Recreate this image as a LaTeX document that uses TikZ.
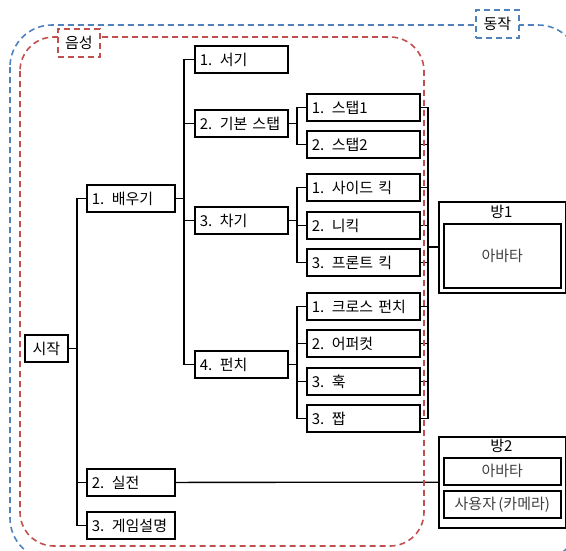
\documentclass[tikz,border=0pt]{standalone}
\usepackage{fontspec}
\setmainfont[WordSpace=0.7]{Noto Sans CJK KR}
\begin{document}
\begin{tikzpicture}[x=1pt,y=-1pt,
  every node/.style={font=\fontsize{15}{17}\selectfont, text=black},
  bx/.style={draw=black, line width=1.8pt, anchor=north west, minimum height=27pt, inner xsep=5pt, inner ysep=0pt, align=left},
  wA/.style={minimum width=88pt, text width=78pt},
  wB/.style={minimum width=93pt, text width=83pt},
  wC/.style={minimum width=113pt, text width=103pt},
  room/.style={draw=black, line width=1.5pt, anchor=north west, minimum width=127pt, minimum height=91pt, inner sep=0pt},
  inbox/.style={draw=black, line width=1.6pt, anchor=north west, minimum width=117pt, inner sep=0pt, text=black!75},
  conn/.style={draw=black, line width=1.7pt},
  bluedash/.style={draw={rgb,255:red,79;green,129;blue,189}, line width=1.6pt, dash pattern=on 6pt off 4pt},
  reddash/.style={draw={rgb,255:red,192;green,80;blue,77}, line width=1.6pt, dash pattern=on 6pt off 4pt},
  lbl/.style={fill=white, anchor=north west, inner sep=0pt}
]
\useasboundingbox (0,0) rectangle (566,550);
\begin{scope}
\clip (0,0) rectangle (566,550);
% outer blue frame
\draw[bluedash, rounded corners=42pt] (10,25) rectangle (580,560);

% level 1
\node[bx, minimum width=43pt] (start) at (24,334) {시작};
\node[bx, wA] (learn) at (86,184) {1. 배우기};
\node[bx, wA] (real) at (86,468) {2. 실전};
\node[bx, wA] (manual) at (86,511) {3. 게임설명};
% level 2
\node[bx, wB] (stand) at (194,45) {1. 서기};
\node[bx, wB] (basic) at (194,109) {2. 기본 스탭};
\node[bx, wB] (kick) at (194,206) {3. 차기};
\node[bx, wB] (punch) at (194,350) {4. 펀치};
% level 3
\node[bx, wC] (s1) at (306,93) {1. 스탭1};
\node[bx, wC] (s2) at (306,130) {2. 스탭2};
\node[bx, wC] (sk) at (306,173) {1. 사이드 킥};
\node[bx, wC] (kn) at (306,211) {2. 니킥};
\node[bx, wC] (fk) at (306,248) {3. 프론트 킥};
\node[bx, wC] (cp) at (306,292) {1. 크로스 펀치};
\node[bx, wC] (up) at (306,329) {2. 어퍼컷};
\node[bx, wC] (hook) at (306,367) {3. 훅};
\node[bx, wC] (jab) at (306,404) {3. 짭};

% rooms
\node[room] (room1) at (438,201) {};
\node (r1t) at (501.5,212) {방1};
\node[inbox, minimum height=64pt] (r1a) at (443,223) {아바타};
\node[room] (room2) at (438,436) {};
\node (r2t) at (501.5,446) {방2};
\node[inbox, minimum height=27pt] (r2a) at (443,457) {아바타};
\node[inbox, minimum height=27pt] (r2b) at (443,490) {사용자 (카메라)};

% trunk coordinates
\coordinate (t1) at (77,0);
\coordinate (t2) at (184,0);
\coordinate (t3) at (297,0);
\coordinate (t4) at (428,0);

% level-1 connectors
\draw[conn] (learn.west) -- (learn.west -| t1) |- (manual.west);
\draw[conn] (start.east) -- (start.east -| t1);
\draw[conn] (real.west) -- (real.west -| t1);
% level-2 connectors
\draw[conn] (learn.east) -- (learn.east -| t2);
\draw[conn] (stand.west) -- (stand.west -| t2) |- (punch.west);
\draw[conn] (basic.west) -- (basic.west -| t2);
\draw[conn] (kick.west) -- (kick.west -| t2);
% level-3 connectors
\draw[conn] (basic.east) -- (basic.east -| t3);
\draw[conn] (s1.west) -- (s1.west -| t3) |- (s2.west);
\draw[conn] (kick.east) -- (kick.east -| t3);
\draw[conn] (sk.west) -- (sk.west -| t3) |- (fk.west);
\draw[conn] (kn.west) -- (kn.west -| t3);
\draw[conn] (punch.east) -- (punch.east -| t3);
\draw[conn] (cp.west) -- (cp.west -| t3) |- (jab.west);
\draw[conn] (up.west) -- (up.west -| t3);
\draw[conn] (hook.west) -- (hook.west -| t3);
% right collector
\draw[conn] (s1.east) -- (s1.east -| t4) |- (jab.east);
\foreach \n in {s2,sk,kn,fk,cp,up,hook}{
  \draw[conn] (\n.east) -- (\n.east -| t4);
}
\draw[conn] (t4 |- room1.west) -- (room1.west);
\draw[conn, line width=1.3pt] (real.east) -- (room2.west);

% red frame (voice)
\draw[reddash, rounded corners=34pt] (20,37) rectangle (424,546);

% labels
\node[lbl, reddash, minimum width=42pt, minimum height=28pt] (voice) at (57,28) {음성};
\node[lbl, bluedash, minimum width=43pt, minimum height=28pt] (motion) at (475,9) {동작};
\end{scope}
\end{tikzpicture}
\end{document}
